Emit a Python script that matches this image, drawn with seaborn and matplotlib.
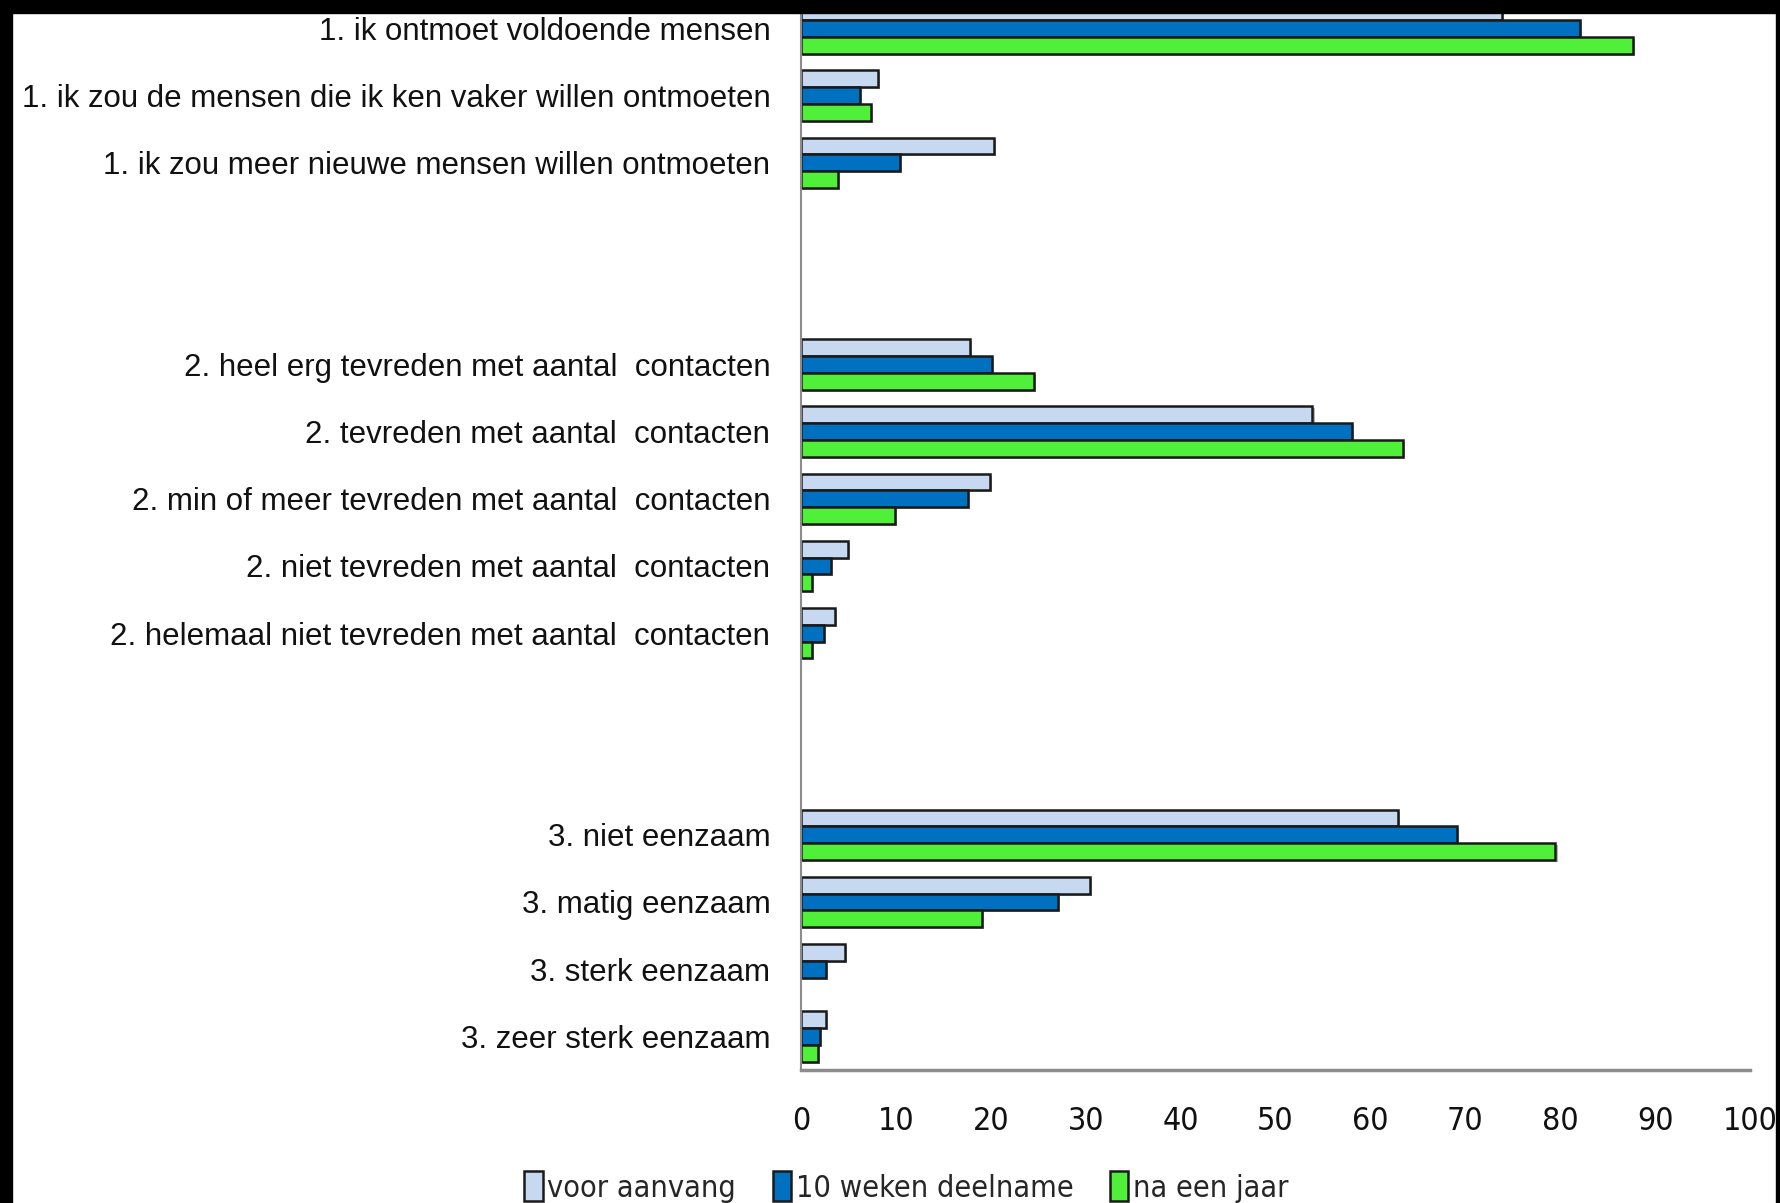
"""
Eenzaamheid / contacten: vergelijking voor aanvang, na 10 weken en na een jaar.
Horizontal grouped bar chart.
"""

import matplotlib
matplotlib.use("Agg")
import matplotlib.pyplot as plt
import matplotlib.patheffects as pe
from matplotlib.patches import Patch, Rectangle
import pandas as pd
import seaborn as sns

# -----------------------------
# Data (percentages)
# -----------------------------
categories = [
    "1. ik ontmoet voldoende mensen",
    "1. ik zou de mensen die ik ken vaker willen ontmoeten",
    "1. ik zou meer nieuwe mensen willen ontmoeten",
    "2. heel erg tevreden met aantal  contacten",
    "2. tevreden met aantal  contacten",
    "2. min of meer tevreden met aantal  contacten",
    "2. niet tevreden met aantal  contacten",
    "2. helemaal niet tevreden met aantal  contacten",
    "3. niet eenzaam",
    "3. matig eenzaam",
    "3. sterk eenzaam",
    "3. zeer sterk eenzaam",
]
voor_aanvang = [73.9, 8.1, 20.3, 17.8, 53.9, 19.9, 5.0, 3.6, 62.9, 30.5, 4.6, 2.6]
weken_10 = [82.1, 6.2, 10.4, 20.1, 58.1, 17.6, 3.2, 2.4, 69.1, 27.1, 2.6, 2.0]
na_een_jaar = [87.7, 7.4, 3.9, 24.6, 63.4, 9.9, 1.2, 1.2, 79.5, 19.1, None, 1.8]

series = ["voor aanvang", "10 weken deelname", "na een jaar"]
colors = ["#C6D9F1", "#0070C0", "#50F03A"]

# empty rows between the three question blocks
order = (categories[:3] + ["_gap1", "_gap2"] + categories[3:8]
         + ["_gap3", "_gap4"] + categories[8:])

rows = []
for name, vals in zip(series, [voor_aanvang, weken_10, na_een_jaar]):
    for cat, v in zip(categories, vals):
        if v is not None:
            rows.append({"categorie": cat, "moment": name, "pct": v})
df = pd.DataFrame(rows)

# -----------------------------
# Plot
# -----------------------------
sns.set_style("white")
plt.rcParams["font.family"] = ["Liberation Sans", "DejaVu Sans"]

fig = plt.figure(figsize=(17.81, 12.03), dpi=100)
ax = fig.add_axes([0.4497, 0.1106, 0.5329, 0.8938])

sns.barplot(data=df, y="categorie", x="pct", hue="moment", order=order,
            hue_order=series, palette=colors, orient="h", width=0.75,
            edgecolor="#1a1a1a", linewidth=1.8, saturation=1,
            legend=False, ax=ax)

for p in ax.patches:
    p.set_path_effects([pe.SimplePatchShadow(offset=(1.5, -1.5),
                                             shadow_rgbFace="#808080", alpha=0.6),
                        pe.Normal()])

ax.set_xlim(0, 100)
ax.set_xticks(range(0, 101, 10))
ax.set_yticks(range(len(order)))
ax.set_yticklabels(["" if c.startswith("_gap") else c for c in order],
                   fontsize=22.5, color="#111111")
for lbl in ax.get_xticklabels():
    lbl.set_family("DejaVu Sans")
    lbl.set_stretch("condensed")
    lbl.set_fontsize(23)
    lbl.set_color("#111111")
ax.set_xlabel("")
ax.set_ylabel("")

ax.tick_params(axis="y", length=0, pad=22)
ax.tick_params(axis="x", length=10, width=1.5, color="#8c8c8c",
               direction="out", pad=16)

for side in ["top", "right"]:
    ax.spines[side].set_visible(False)
ax.spines["left"].set_color("#8c8c8c")
ax.spines["left"].set_linewidth(1.5)
ax.spines["bottom"].set_color("#8c8c8c")
ax.spines["bottom"].set_linewidth(2.5)

handles = [Patch(facecolor=c, edgecolor="#1a1a1a", linewidth=1.8) for c in colors]
fig.legend(handles, series, loc="center", bbox_to_anchor=(0.509, 1 - 1187 / 1203),
           ncol=3, frameon=False, handlelength=0.6, handleheight=1.1,
           handletextpad=0.15, columnspacing=1.2,
           prop={"family": "DejaVu Sans", "stretch": "condensed", "size": 22})

# black frame edges of the screenshot
fig.add_artist(Rectangle((0, 1 - 13 / 1203), 1, 13 / 1203,
                         transform=fig.transFigure, color="black", zorder=10))
fig.add_artist(Rectangle((0, 0), 12 / 1781, 1,
                         transform=fig.transFigure, color="black", zorder=10))
fig.add_artist(Rectangle((1 - 5 / 1781, 0), 5 / 1781, 1,
                         transform=fig.transFigure, color="black", zorder=10))

fig.savefig("out.png", dpi=100)
